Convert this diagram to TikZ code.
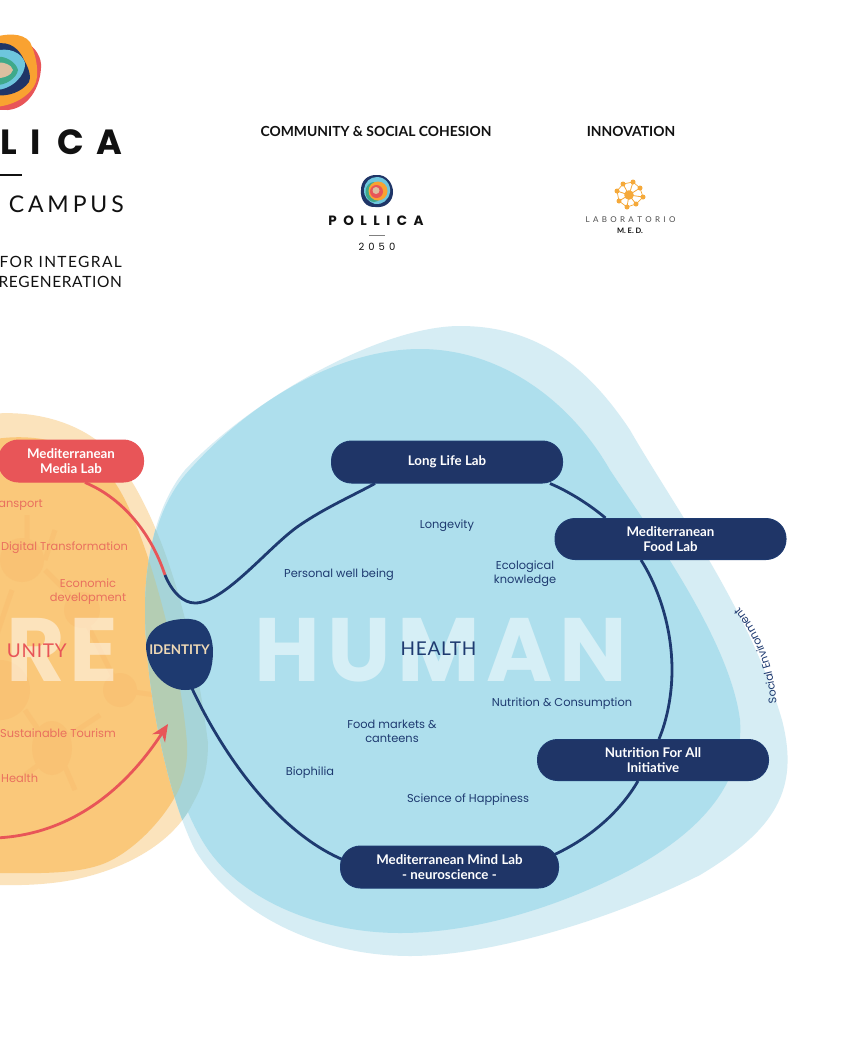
\documentclass[tikz,border=0pt]{standalone}
\usepackage{fontspec}
\setmainfont{Poppins}
\newfontfamily\brandfont{Lato}
\usetikzlibrary{arrows.meta,decorations.text}
\pgfdeclarelayer{blobs}
\pgfdeclarelayer{links}
\pgfsetlayers{blobs,links,main}
\definecolor{navy}{HTML}{1E3A70}
\definecolor{lab}{HTML}{1F3567}
\definecolor{coral}{HTML}{E85558}
\definecolor{blueL}{HTML}{D6EDF4}
\definecolor{blueM}{HTML}{AEDFED}
\definecolor{orangeL}{HTML}{FBE3BC}
\definecolor{orangeM}{HTML}{FAC87A}
\definecolor{orangeD}{HTML}{F9C274}
\definecolor{txtcoral}{HTML}{E9705E}
\definecolor{ovM}{HTML}{B4CDB3}
\definecolor{ovL}{HTML}{A6D4D8}
\definecolor{ink}{HTML}{111111}
\definecolor{logoO}{HTML}{F9A231}
\definecolor{logoB}{HTML}{6EC6DD}
\definecolor{logoG}{HTML}{3FA98A}
\definecolor{logoT}{HTML}{DDBFA0}
\definecolor{medO}{HTML}{F5A93A}
\newcommand\lowtxt[1]{\raisebox{-1.5pt}{#1}}
\newcommand\orangeLpath{(-10,414) .. controls (30,410) and (75,420) .. (105,447) .. controls (150,490) and (190,600) .. (208,743) .. controls (208,775) and (200,790) .. (193,803) .. controls (170,850) and (110,875) .. (60,882) .. controls (30,886) and (10,885) .. (-10,885) -- cycle}
\newcommand\orangeMpath{(-10,440) .. controls (30,432) and (85,440) .. (113,480) .. controls (140,515) and (178,640) .. (187,743) .. controls (188,760) and (185,775) .. (180,787) .. controls (165,820) and (130,855) .. (100,865) .. controls (70,875) and (30,873) .. (-10,873) -- cycle}
\newcommand\blueLpath{(185,470) .. controls (250,400) and (380,326) .. (460,326) .. controls (540,326) and (590,370) .. (630,430) .. controls (670,500) and (750,610) .. (782,720) .. controls (800,790) and (775,830) .. (700,875) .. controls (610,920) and (490,956) .. (410,956) .. controls (320,956) and (235,915) .. (195,850) .. controls (165,790) and (145,680) .. (145,610) .. controls (145,550) and (160,500) .. (185,470) -- cycle}
\newcommand\blueMpath{(185,475) .. controls (250,400) and (340,349) .. (420,349) .. controls (500,349) and (570,400) .. (610,470) .. controls (650,530) and (730,640) .. (740,720) .. controls (745,790) and (690,840) .. (620,875) .. controls (550,910) and (470,933) .. (400,933) .. controls (320,933) and (240,900) .. (205,845) .. controls (170,790) and (146,680) .. (146,610) .. controls (146,550) and (160,505) .. (185,475) -- cycle}
\tikzset{
 labbox/.style={rounded corners=20pt,fill=lab,draw=navy,line width=1pt,text=white,font=\brandfont\bfseries\fontsize{13.3}{15}\selectfont,align=center,inner sep=0pt},
 redbox/.style={labbox,fill=coral,draw=coral},
 bluetxt/.style={text=navy,font=\fontsize{11.4}{14}\selectfont,align=center,inner sep=0pt},
 redtxt/.style={text=txtcoral,font=\fontsize{11.4}{14}\selectfont,align=center,inner sep=0pt},
 bigword/.style={text=white,opacity=.5,inner sep=0pt,font=\bfseries\fontsize{90}{90}\selectfont\addfontfeatures{LetterSpace=7.5}},
 bigwordb/.style={text=white,opacity=.5,inner sep=0pt,font=\bfseries\fontsize{90}{90}\selectfont\addfontfeatures{LetterSpace=4}},
 link/.style={draw=navy,line width=2.8pt},
 redlink/.style={draw=coral,line width=2.8pt},
 netline/.style={draw=orangeD,line width=5pt},
 blackhead/.style={text=ink,font=\brandfont\bfseries\fontsize{13.9}{15}\selectfont,inner sep=0pt},
}
\begin{document}
\begin{tikzpicture}[x=1pt,y=-1pt]
\useasboundingbox (0,0) rectangle (845,1037);
\begin{pgfonlayer}{blobs}
\fill[white] (0,0) rectangle (845,1037);
\fill[orangeL] \orangeLpath;
\fill[orangeM] \orangeMpath;
% network
\draw[netline] (27,515) -- (27,560) (12,590) -- (-5,640) (45,570) -- (70,595) (85,620) -- (120,690) (155,695) -- (120,690) (25,710) -- (52,750) (52,755) -- (25,775) (60,755) -- (75,790) (100,715) -- (70,735) (45,560) -- (55,530);
\fill[orangeD] (22,560) circle (22);
\fill[orangeD] (82,610) circle (18);
\fill[orangeD] (120,690) circle (17);
\fill[orangeD] (52,748) ellipse (20 and 27);
\fill[orangeD] (0,690) circle (30);
% blue blobs
\fill[blueL] \blueLpath;
\fill[blueM] \blueMpath;
\begin{scope}
\clip \blueLpath;
\fill[ovL] \orangeLpath;
\fill[ovM] \orangeMpath;
\end{scope}
% big words
\node[bigword] (human) at (441,650) {HUMAN};
\node[bigwordb,anchor=east] (re) at (118,650) {RE};
\end{pgfonlayer}
% nodes
\node[redbox,minimum width=145pt,minimum height=42pt] (media) at (71,461) {\lowtxt{Mediterranean}\\\lowtxt{Media Lab}};
\node[labbox,minimum width=231pt,minimum height=42pt] (life) at (447,462) {\lowtxt{Long Life Lab}};
\node[labbox,minimum width=231pt,minimum height=41pt] (food) at (670.5,539) {\lowtxt{Mediterranean}\\\lowtxt{Food Lab}};
\node[labbox,minimum width=231pt,minimum height=41pt] (nutri) at (653,760) {\lowtxt{Nutrition For All}\\\lowtxt{Initiative}};
\node[labbox,minimum width=218pt,minimum height=42pt] (mind) at (449.5,867) {\lowtxt{Mediterranean Mind Lab}\\\lowtxt{- neuroscience -}};
\path[fill=navy] (146,645) .. controls (148,628) and (165,618) .. (190,619) .. controls (205,620) and (212,632) .. (213,650) .. controls (213,670) and (208,690) .. (185,690) .. controls (165,690) and (146,670) .. (146,645) -- cycle;
\node[inner sep=0pt,text=orangeL!90!gray,font=\brandfont\bfseries\fontsize{13.3}{14}\selectfont] (identity) at (179.5,650) {IDENTITY};
\coordinate (join) at (165,575);
\coordinate (arrowstart) at (-5,838);
\coordinate (arrowtip) at (168,724);
% connectors
\begin{pgfonlayer}{links}
\draw[redlink] ([xshift=14pt]media.south) .. controls (120,497) and (150,530) .. (join);
\draw[link] (join) .. controls (172,592) and (183,603) .. (195,603) .. controls (225,603) and (270,545) .. (300,525) .. controls (325,508) and (350,497) .. ([xshift=-72pt]life.south);
\draw[link] ([xshift=103pt]life.south) .. controls (570,492) and (590,505) .. ([xshift=-65pt]food.north);
\draw[link] ([xshift=-29.5pt]food.south) .. controls (660,590) and (672,630) .. (672,670) .. controls (672,695) and (667,720) .. ([xshift=6pt]nutri.north);
\draw[link] ([xshift=-15pt]nutri.south) .. controls (620,812) and (590,838) .. ([xshift=105pt,yshift=-9pt]mind.north);
\draw[link] ([xshift=10pt,yshift=-28pt]identity.south) .. controls (222,755) and (278,832) .. ([xshift=-107pt,yshift=-14pt]mind.north);
\draw[redlink,-{Stealth[length=17pt,width=15pt]}] (arrowstart) .. controls (70,835) and (125,790) .. (arrowtip);
\end{pgfonlayer}
% labels
\node[bluetxt] (l1) at (447,525.5) {Longevity};
\node[bluetxt] (l2) at (339,574.5) {Personal well being};
\node[bluetxt] (l3) at (525,574) {Ecological\\knowledge};
\node[text=navy,inner sep=0pt,font=\brandfont\fontsize{19}{22}\selectfont\addfontfeatures{LetterSpace=4}] (l4) at (438.5,649) {HEALTH};
\node[bluetxt] (l5) at (562,703.5) {Nutrition \& Consumption};
\node[bluetxt] (l6) at (392,731.5) {Food markets \&\\canteens};
\node[bluetxt] (l7) at (310,772.5) {Biophilia};
\node[bluetxt] (l8) at (468,799.5) {Science of Happiness};
\path[decorate,decoration={text along path,text align=center,text={|\fontsize{11}{12}\selectfont\color{navy}|Social Environment}}] (777,708) .. controls (775,670) and (763,635) .. (736,603);
\node[redtxt,anchor=east] (r1) at (43,505.5) {ansport};
\node[redtxt] (r2) at (64.5,547.5) {Digital Transformation};
\node[redtxt] (r3) at (88,591.5) {Economic\\development};
\node[text=coral,inner sep=0pt,anchor=east,font=\brandfont\fontsize{19}{22}\selectfont\addfontfeatures{LetterSpace=4}] (r4) at (67,651) {UNITY};
\node[redtxt] (r5) at (58,733.5) {Sustainable Tourism};
\node[redtxt,anchor=west] (r6) at (1,778.5) {Health};
% header
\node[blackhead] (h1) at (376,131.5) {COMMUNITY \& SOCIAL COHESION};
\node[blackhead] (h2) at (631,131.5) {INNOVATION};
% left logo
\fill[coral] (26,42) .. controls (36,48) and (42,58) .. (41,68) .. controls (40,88) and (28,108) .. (8,110) .. controls (2,110) and (-5,110) .. (-5,108) -- cycle;
\fill[logoO] (-5,37) .. controls (5,34) and (22,32) .. (30,42) .. controls (36,55) and (38,68) .. (37,77) .. controls (36,90) and (20,105) .. (-5,107) -- cycle;
\fill[lab] (-5,44) .. controls (10,40) and (20,50) .. (24,60) .. controls (30,70) and (31,78) .. (29,82) .. controls (22,92) and (8,97) .. (-5,95) -- cycle;
\fill[logoB] (-5,51) .. controls (8,47) and (22,52) .. (25,63) .. controls (26,75) and (12,90) .. (-5,90) -- cycle;
\fill[logoG] (-5,57) .. controls (5,55) and (16,62) .. (18,70) .. controls (17,78) and (5,86) .. (-5,85) -- cycle;
\fill[logoT] (-5,63) .. controls (3,61) and (12,65) .. (13,70) .. controls (12,75) and (3,79) .. (-5,78) -- cycle;
% left wordmark
\node[anchor=east,inner sep=0pt,text=ink,font=\bfseries\fontsize{35}{36}\selectfont] (pol) at (122,142) {L\hspace{.39em}I\hspace{.45em}C\hspace{.35em}A};
\coordinate (ru1) at (0,175);
\coordinate (ru2) at (22,175);
\draw[ink,line width=1.2pt] (ru1) -- (ru2);
\node[anchor=east,inner sep=0pt,text=ink,font=\brandfont\fontsize{23}{23}\selectfont\addfontfeatures{LetterSpace=17}] (cmp) at (124,204) {CAMPUS};
\node[anchor=east,inner sep=0pt,text=ink,font=\brandfont\fontsize{15.5}{16}\selectfont\addfontfeatures{LetterSpace=9}] (f1) at (122,262) {FOR INTEGRAL};
\node[anchor=east,inner sep=0pt,text=ink,font=\brandfont\fontsize{15.5}{16}\selectfont\addfontfeatures{LetterSpace=4}] (f2) at (122,282) {REGENERATION};
% middle logo
\fill[lab] (376,175) .. controls (387,174) and (393,184) .. (393,192) .. controls (393,202) and (385,208) .. (376,207) .. controls (366,208) and (360,200) .. (361,190) .. controls (361,181) and (367,175) .. (376,175) -- cycle;
\fill[logoB] (377,177) .. controls (385,177) and (391,184) .. (390,192) .. controls (389,200) and (382,205) .. (375,204) .. controls (368,202) and (363,196) .. (364,189) .. controls (365,182) and (370,177) .. (377,177) -- cycle;
\fill[logoG] (374,192) ellipse (8.5 and 10);
\fill[logoO] (378,191) circle (9.5);
\fill[coral] (376.5,191.5) circle (6.5);
\fill[logoT] (376,190.5) circle (3.5);
\node[inner sep=0pt,text=ink,font=\bfseries\fontsize{13.5}{14}\selectfont] (pw) at (376,221) {P\hspace{.48em}O\hspace{.48em}L\hspace{.48em}L\hspace{.48em}I\hspace{.48em}C\hspace{.48em}A};
\coordinate (ru3) at (369,235);
\coordinate (ru4) at (385,235);
\draw[gray,line width=.8pt] (ru3) -- (ru4);
\node[inner sep=0pt,text=ink,font=\fontsize{10}{11}\selectfont] (y) at (377,247) {2\hspace{.4em}0\hspace{.4em}5\hspace{.4em}0};
% right logo
\foreach \px/\py in {623/184,633/182,640/188,643/197,636/204,627/207,619/201,617/191}{
 \draw[line width=.8pt,medO] (629,195) -- (\px,\py);
 \fill[medO] (\px,\py) circle (2.5);
}
\draw[line width=.7pt,medO] (623,184) -- (633,182) -- (640,188) -- (643,197) -- (636,204) -- (627,207) -- (619,201) -- (617,191) -- cycle;
\fill[medO] (629,195) circle (4.8);
\node[inner sep=0pt,text=ink!75,font=\brandfont\fontsize{8}{9}\selectfont] (lm) at (630.5,220) {L\hspace{.42em}A\hspace{.42em}B\hspace{.42em}O\hspace{.42em}R\hspace{.42em}A\hspace{.42em}T\hspace{.42em}O\hspace{.42em}R\hspace{.42em}I\hspace{.42em}O};
\node[inner sep=0pt,text=ink,font=\brandfont\bfseries\fontsize{7.5}{8}\selectfont] (md) at (630,231) {M. E. D.};
\end{tikzpicture}
\end{document}
